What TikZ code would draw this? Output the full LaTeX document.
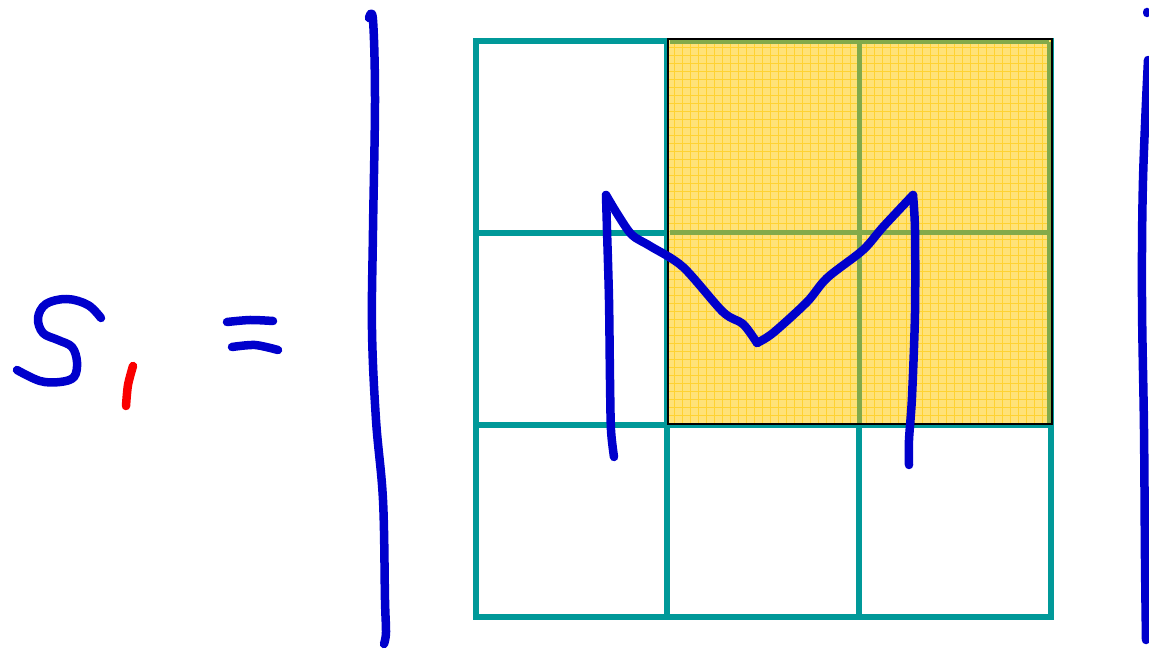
\documentclass[tikz,border=0pt]{standalone}
\usepackage{xcolor}
\usepackage{tikz}

\definecolor{inkblue}{RGB}{0,0,204}
\definecolor{inkred}{RGB}{250,0,0}
\definecolor{gridteal}{RGB}{0,153,153}
\definecolor{boxgold}{RGB}{255,226,120}
\definecolor{boxfine}{RGB}{255,210,50}
\definecolor{boxolive}{RGB}{130,170,74}

\begin{document}
\begin{tikzpicture}[
    x=1pt, y=-1pt,
    ink/.style={line width=8.5pt, line cap=round, line join=round, color=inkblue},
    redink/.style={ink, color=inkred},
    cell/.style={line width=5.5pt, color=gridteal},
    shade/.style={fill=boxgold},
    fine/.style={line width=0.4pt, color=boxfine},
    inner/.style={line width=5pt, color=boxolive},
    rim/.style={draw=black, line width=1.8pt}
]
\useasboundingbox (0,0) rectangle (1149,652);

% the 3x3 grid
\foreach \gx in {476,667,859,1051}
  \draw[cell] (\gx,41) -- (\gx,617);
\foreach \gy in {41,233,425,617}
  \draw[cell] (473,\gy) -- (1054,\gy);

% shaded 2x2 block
\fill[shade] (668,39) rectangle (1052,424);
\begin{scope}
  \clip (668,39) rectangle (1052,424);
  \foreach \fx in {674,682,...,1050}
    \draw[fine] (\fx,39) -- (\fx,424);
  \foreach \fy in {47,55,...,424}
    \draw[fine] (668,\fy) -- (1052,\fy);
\end{scope}
\draw[inner] (859,41) -- (859,424);
\draw[inner] (670,233) -- (1050,233);
\draw[inner] (670,42) -- (1049,42);
\draw[inner] (1049,42) -- (1049,424);
\draw[rim] (668,39) rectangle (1052,424);

% S with red subscript
\draw[ink] plot[smooth, tension=0.6] coordinates {(101,318) (88,305) (67,299) (46,304) (38,318) (43,333) (58,340) (72,347) (77,362) (74,377) (60,382) (40,381) (17,370)};
\draw[redink] plot[smooth] coordinates {(133,366) (128,385) (126,406)};

% equals sign
\draw[ink] plot[smooth] coordinates {(227,322) (250,320) (273,321)};
\draw[ink] plot[smooth] coordinates {(232,347) (255,345) (278,350)};

% left bracket
\draw[ink] plot[smooth, tension=0.6] coordinates {(369,18) (373,20) (375,100) (373,230) (372,330) (376,420) (383,500) (385,600) (386,632) (384,644)};

% right bracket
\draw[ink] (1147,12) -- (1147,13);
\draw[ink] plot[smooth, tension=0.6] coordinates {(1148,60) (1143,180) (1142,300) (1144,430) (1145,560) (1146,640)};

% the M
\draw[ink] plot[smooth, tension=0.5] coordinates {(614,457) (611,430) (610,380) (609,300) (607,230) (606,195)};
\draw[ink] plot[smooth, tension=0.5] coordinates {(606,195) (618,215) (632,235) (650,246) (683,267) (723,312) (743,324) (757,343)};
\draw[ink] plot[smooth, tension=0.5] coordinates {(757,343) (773,333) (807,302) (827,278) (863,250) (883,227) (913,195)};
\draw[ink] plot[smooth, tension=0.5] coordinates {(913,195) (915,230) (915,313) (912,397) (909,440) (909,465)};
\end{tikzpicture}
\end{document}
